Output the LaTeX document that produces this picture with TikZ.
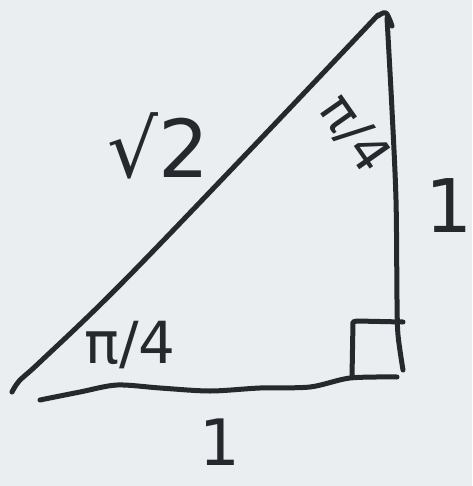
\documentclass[tikz,border=0pt]{standalone}
\usepackage{fontspec}
\newfontfamily\handfont{DejaVu Sans}
\definecolor{bgc}{HTML}{EBEEF1}
\definecolor{ink}{HTML}{25282C}
\begin{document}
\begin{tikzpicture}[x=1pt,y=-1pt,
  stroke/.style={draw=ink,line width=5pt,line cap=round,line join=round},
  lbl/.style={text=ink,font=\handfont\fontsize{#1}{#1}\selectfont,inner sep=0pt}]
\fill[bgc] (0,0) rectangle (472,486);
\useasboundingbox (0,0) rectangle (472,486);
% hypotenuse
\draw[stroke] plot[smooth,tension=0.6] coordinates {(12,392) (20,380) (40,362) (120,285) (250,150) (378,15)};
% top hook and vertical leg
\draw[stroke] plot[smooth,tension=0.6] coordinates {(378,16) (386,13) (392,26)};
\draw[stroke] plot[smooth,tension=0.5] coordinates {(387,18) (392,110) (396,200) (397,300) (398,335) (403,370)};
% bottom leg
\draw[stroke] plot[smooth,tension=0.5] coordinates {(40,400) (80,392) (117,385) (160,388) (210,391) (260,388) (310,387) (350,378) (397,377)};
% right-angle mark
\draw[stroke] (352,377) -- (353,322) -- (357,321) -- (403,322);
% labels
\node[lbl=80] (s2) at (158,146) {√2};
\node[lbl=52,rotate=-55] (a1) at (355,134) {π/4};
\node[lbl=58] (a2) at (130,345) {π/4};
\node[lbl=74] (l1) at (449,206) {1};
\node[lbl=64] (l2) at (220,442) {1};
\end{tikzpicture}
\end{document}
